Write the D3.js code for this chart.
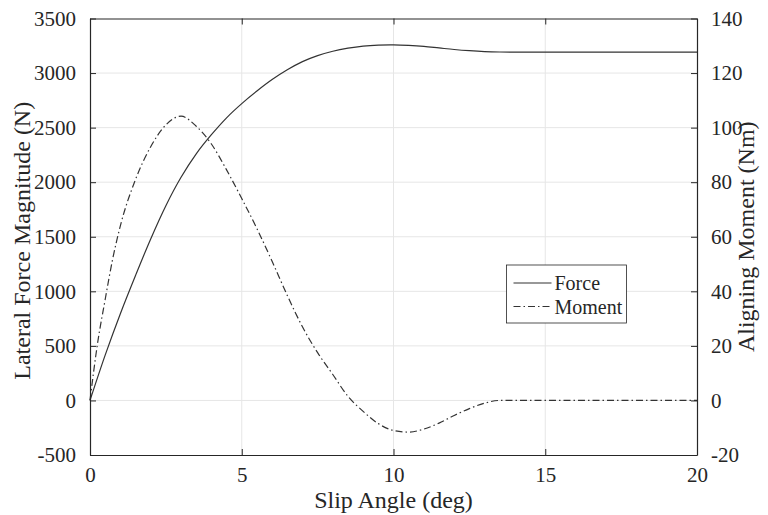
<!DOCTYPE html>
<html>
<head>
<meta charset="utf-8">
<script src="https://cdn.jsdelivr.net/npm/d3@7"></script>
<style>
  body { margin: 0; background: #fff; }
  text { font-family: "Liberation Serif", "Times New Roman", serif; fill: #262626; }
</style>
</head>
<body>
<div id="chart"></div>
<script>

// slip angle (deg) and lateral force (N)
var forceSlip = [0, 0.5, 1, 1.5, 2, 2.5, 3, 3.5, 4, 4.5, 5, 5.5, 6, 6.5, 7, 7.5, 8, 8.5, 9, 9.5,
                 10, 10.5, 11, 11.5, 12, 12.5, 13, 13.5, 14, 15, 16, 17, 18, 19, 20];
var forceVals = [0, 415, 795, 1145, 1480, 1785, 2045, 2260, 2435, 2590, 2720, 2835, 2940, 3030, 3105, 3160, 3200, 3228, 3247, 3256,
                 3258, 3253, 3244, 3230, 3216, 3205, 3197, 3193, 3192, 3192, 3192, 3192, 3192, 3192, 3192];

// slip angle (deg) and aligning moment (Nm)
var momentSlip = [0, 0.25, 0.5, 0.75, 1, 1.5, 2, 2.5, 3, 3.5, 4, 4.5, 5, 5.5, 6, 6.5, 7, 7.5, 8, 8.5,
                  9, 9.5, 10, 10.5, 11, 11.5, 12, 12.5, 13, 13.5, 14, 15, 16, 17, 18, 19, 20];
var momentVals = [0, 21, 37, 52, 64, 81, 93, 101, 104.2, 100.5, 94, 84.5, 74, 63, 51, 38.5, 27, 17.5, 9.5, 1.5,
                  -4, -8.5, -11, -11.6, -10.5, -8.3, -5.5, -3, -1, 0, 0, 0, 0, 0, 0, 0, 0];

var xTicks = [0, 5, 10, 15, 20];
var yLeftTicks = [-500, 0, 500, 1000, 1500, 2000, 2500, 3000, 3500];
var yRightTicks = [-20, 0, 20, 40, 60, 80, 100, 120, 140];

var legendNames = ["Force", "Moment"];

//====================================================================================

var W = 768, H = 515;
var margin = {top: 18.5, right: 71, bottom: 60, left: 90};
var width = W - margin.left - margin.right,
    height = H - margin.top - margin.bottom;

var axisColor = "#262626",
    gridColor = "#e6e6e6",
    lineColor = "#333333",
    momentDash = "7,3,1.5,3";

var svg = d3.select("#chart").append("svg")
    .attr("width", W)
    .attr("height", H)
  .append("g")
    .attr("transform", "translate(" + margin.left + "," + margin.top + ")");

var x = d3.scaleLinear().domain([0, 20]).range([0, width]);
var yL = d3.scaleLinear().domain([-500, 3500]).range([height, 0]);
var yR = d3.scaleLinear().domain([-20, 140]).range([height, 0]);

// plain numbers, hyphen minus like matlab
var plain = function(d){ return String(d); };

// grid
svg.append("g").selectAll("line.gx")
    .data(xTicks.slice(1, -1)).enter().append("line")
    .attr("x1", d => x(d)).attr("x2", d => x(d))
    .attr("y1", 0).attr("y2", height)
    .attr("stroke", gridColor).attr("stroke-width", 1);

svg.append("g").selectAll("line.gy")
    .data(yLeftTicks.slice(1, -1)).enter().append("line")
    .attr("y1", d => yL(d)).attr("y2", d => yL(d))
    .attr("x1", 0).attr("x2", width)
    .attr("stroke", gridColor).attr("stroke-width", 1);

// curves
var forceLine = d3.line()
    .x((d, i) => x(forceSlip[i]))
    .y(d => yL(d))
    .curve(d3.curveCatmullRom.alpha(0.5));

var momentLine = d3.line()
    .x((d, i) => x(momentSlip[i]))
    .y(d => yR(d))
    .curve(d3.curveMonotoneX);

svg.append("path")
    .attr("d", forceLine(forceVals))
    .attr("fill", "none")
    .attr("stroke", lineColor)
    .attr("stroke-width", 1.2);

svg.append("path")
    .attr("d", momentLine(momentVals))
    .attr("fill", "none")
    .attr("stroke", lineColor)
    .attr("stroke-width", 1.2)
    .attr("stroke-dasharray", momentDash);

// axes (ticks point inward like matlab)
var tickLen = 6;

var xAxis = svg.append("g")
    .attr("transform", "translate(0," + height + ")")
    .call(d3.axisBottom(x).tickValues(xTicks).tickFormat(plain)
          .tickSizeInner(-tickLen).tickSizeOuter(0).tickPadding(12));

var xTop = svg.append("g")
    .call(d3.axisTop(x).tickValues(xTicks).tickSizeInner(-tickLen).tickSizeOuter(0).tickFormat(""));

var yAxisL = svg.append("g")
    .call(d3.axisLeft(yL).tickValues(yLeftTicks).tickFormat(plain)
          .tickSizeInner(-tickLen).tickSizeOuter(0).tickPadding(14));

var yAxisR = svg.append("g")
    .attr("transform", "translate(" + width + ",0)")
    .call(d3.axisRight(yR).tickValues(yRightTicks).tickFormat(plain)
          .tickSizeInner(-tickLen).tickSizeOuter(0).tickPadding(14));

[xAxis, xTop, yAxisL, yAxisR].forEach(function(g){
    g.select(".domain").attr("stroke", axisColor).attr("stroke-width", 1.2);
    g.selectAll(".tick line").attr("stroke", axisColor).attr("stroke-width", 1);
    g.selectAll(".tick text")
        .style("font-family", "'Liberation Serif', serif")
        .style("font-size", "21px")
        .attr("fill", axisColor);
});

// axis labels
svg.append("text")
    .attr("x", width / 2)
    .attr("y", height + 53)
    .attr("text-anchor", "middle")
    .style("font-size", "24px")
    .text("Slip Angle (deg)");

svg.append("text")
    .attr("transform", "translate(" + (-margin.left + 30) + "," + (height / 2 + 4) + ") rotate(-90)")
    .attr("text-anchor", "middle")
    .style("font-size", "24px")
    .text("Lateral Force Magnitude (N)");

svg.append("text")
    .attr("transform", "translate(" + (width + 57) + "," + (height / 2) + ") rotate(-90)")
    .attr("text-anchor", "middle")
    .style("font-size", "24px")
    .text("Aligning Moment (Nm)");

// legend
var lgX = 506.5 - margin.left, lgY = 265 - margin.top, lgW = 120, lgH = 58;

var legend = svg.append("g").attr("transform", "translate(" + lgX + "," + lgY + ")");

legend.append("rect")
    .attr("width", lgW).attr("height", lgH)
    .attr("fill", "#fff")
    .attr("stroke", "#262626")
    .attr("stroke-width", 0.8);

legend.selectAll("line.lg")
    .data(legendNames).enter().append("line")
    .attr("x1", 7).attr("x2", 45)
    .attr("y1", (d, i) => 18 + i * 23.5).attr("y2", (d, i) => 18 + i * 23.5)
    .attr("stroke", lineColor)
    .attr("stroke-width", 1.2)
    .attr("stroke-dasharray", (d, i) => i === 1 ? momentDash : null);

legend.selectAll("text.lg")
    .data(legendNames).enter().append("text")
    .attr("x", 48)
    .attr("y", (d, i) => 18 + i * 23.5)
    .attr("dy", "0.35em")
    .style("font-size", "20px")
    .text(d => d);

</script>
</body>
</html>
